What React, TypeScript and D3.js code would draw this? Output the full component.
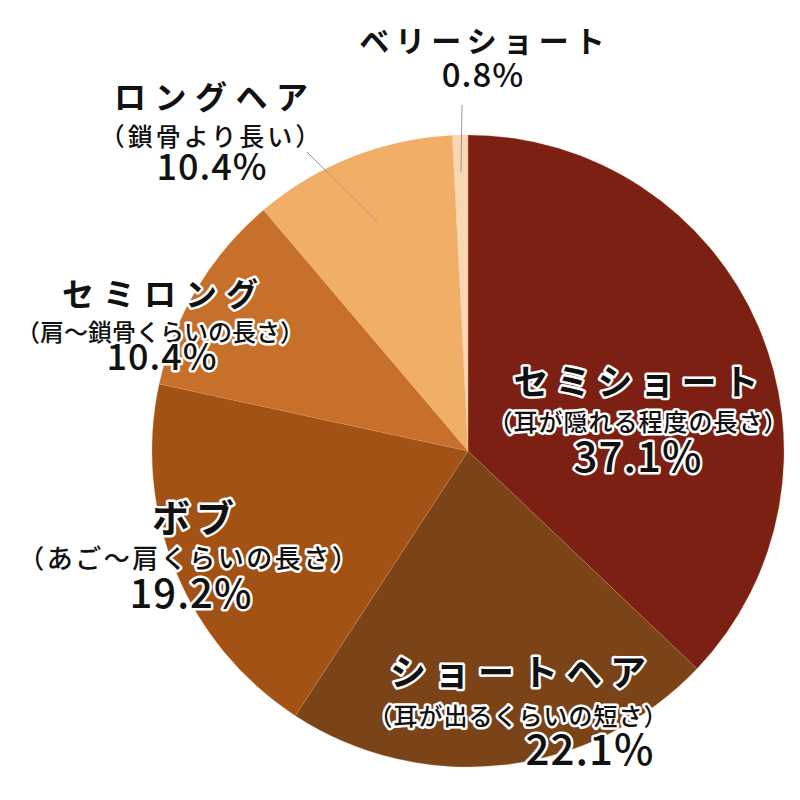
import React from "react";
import * as d3 from "d3";

const categories = ["セミショート", "ショートヘア", "ボブ", "セミロング", "ロングヘア", "ベリーショート"];
const subtitles = ["（耳が隠れる程度の長さ）", "（耳が出るくらいの短さ）", "（あご～肩くらいの長さ）", "（肩～鎖骨くらいの長さ）", "（鎖骨より長い）", ""];
const values = [37.1, 22.1, 19.2, 10.4, 10.4, 0.8];
const colors = ["#7b2012", "#7a4318", "#a15214", "#c7702c", "#f1ae66", "#f9d7b3"];

// label layout (text centers / baselines), kept apart from the data
const labelLayout: Array<{
  x: number; sx: number; px: number; ty: number; sy: number; py: number;
  tSize: number; sSize: number; sLs: number; pSize: number; ls: number;
}> = [
  { x: 636, sx: 638, px: 638, ty: 395, sy: 431, py: 472, tSize: 35, sSize: 24, sLs: 1, pSize: 42, ls: 7 },
  { x: 518, sx: 518, px: 590, ty: 686, sy: 725, py: 765, tSize: 36, sSize: 24, sLs: 1, pSize: 42, ls: 8 },
  { x: 193, sx: 188, px: 191, ty: 532, sy: 568, py: 608, tSize: 38, sSize: 26, sLs: 2.5, pSize: 40, ls: 6 },
  { x: 160, sx: 160, px: 162, ty: 306, sy: 341, py: 370, tSize: 32, sSize: 24, sLs: 0, pSize: 36, ls: 9 },
  { x: 211, sx: 210, px: 212, ty: 109, sy: 146, py: 180, tSize: 32, sSize: 25, sLs: 3, pSize: 36, ls: 8.5 },
  { x: 482, sx: 482, px: 483, ty: 52, sy: 0, py: 87, tSize: 30, sSize: 24, sLs: 0, pSize: 33, ls: 6 },
];

const CX = 468;
const CY = 451;
const R = 316;

export default function App() {
  const pie = d3.pie<number>().sort(null).value((d) => d);
  const arcs = pie(values);
  const arcGen = d3.arc<d3.PieArcDatum<number>>().innerRadius(0).outerRadius(R);

  const haloStyle: React.CSSProperties = {
    paintOrder: "stroke",
    stroke: "#ffffff",
    strokeWidth: 5,
    strokeLinejoin: "round",
    fill: "#111111",
  };

  // leader lines, built from arc geometry
  const outer = d3.arc<d3.PieArcDatum<number>>().innerRadius(R * 0.78).outerRadius(R * 0.78);
  const longArc = arcs[4];
  const vsArc = arcs[5];
  const longC = outer.centroid(longArc);
  const vsMid = (vsArc.startAngle + vsArc.endAngle) / 2;

  return (
    <svg
      width={800}
      height={800}
      style={{ position: "absolute", left: 0, top: 0, background: "#fff", fontFamily: "'Noto Sans CJK JP', 'Noto Sans', sans-serif" }}
    >
      <g transform={`translate(${CX},${CY})`}>
        {arcs.map((a, i) => (
          <path key={i} d={arcGen(a) || ""} fill={colors[i]} stroke="#e8a060" strokeWidth={0.4} strokeOpacity={0.6} />
        ))}
        <line x1={longC[0]} y1={longC[1]} x2={-161} y2={-299} stroke="#9a9a9a" strokeWidth={1} />
        <line
          x1={Math.sin(vsMid) * (R - 37)}
          y1={-Math.cos(vsMid) * (R - 37)}
          x2={Math.sin(vsMid) * (R - 37) + 1}
          y2={-346}
          stroke="#9a9a9a"
          strokeWidth={1}
        />
      </g>
      {categories.map((c, i) => {
        const L = labelLayout[i];
        return (
          <g key={c}>
            <text
              x={L.x + L.ls / 2}
              y={L.ty}
              textAnchor="middle"
              fontSize={L.tSize}
              fontWeight={700}
              letterSpacing={L.ls}
              style={haloStyle}
            >
              {c}
            </text>
            {subtitles[i] && (
              <text
                x={L.sx + L.sLs / 2}
                y={L.sy}
                textAnchor="middle"
                fontSize={L.sSize}
                fontWeight={500}
                letterSpacing={L.sLs}
                style={haloStyle}
              >
                {subtitles[i]}
              </text>
            )}
            <text
              x={L.px}
              y={L.py}
              textAnchor="middle"
              fontSize={L.pSize}
              fontWeight={500}
              letterSpacing={1}
              style={haloStyle}
            >
              {values[i].toFixed(1)}%
            </text>
          </g>
        );
      })}
    </svg>
  );
}
